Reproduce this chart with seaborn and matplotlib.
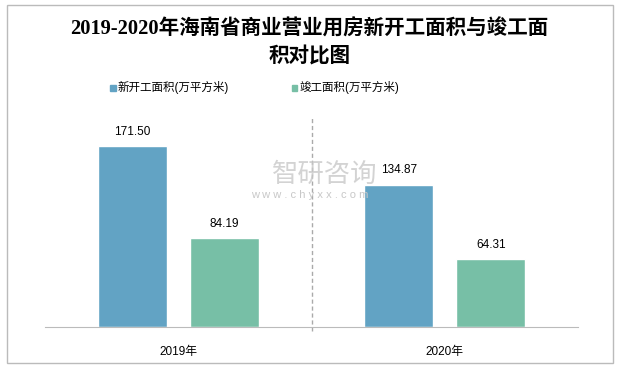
import matplotlib
matplotlib.use('Agg')
import matplotlib.pyplot as plt
import seaborn as sns
import pandas as pd
from matplotlib.patches import Rectangle

years = ['2019年', '2020年']
series = ['新开工面积(万平方米)', '竣工面积(万平方米)']
new_start = [171.50, 134.87]
completed = [84.19, 64.31]
colors = ['#62A3C4', '#77BFA6']

df = pd.DataFrame({
    'year': years * 2,
    'series': [series[0]] * 2 + [series[1]] * 2,
    'value': new_start + completed,
})

sns.set_style('white')
plt.rcParams['font.family'] = ['Liberation Sans', 'Noto Sans CJK SC']
plt.rcParams['text.color'] = 'black'
plt.rcParams['xtick.color'] = 'black'

fig = plt.figure(figsize=(6.19, 3.67), dpi=100)
ax = fig.add_axes([0.073, 0.109, 0.861, 0.575])
sns.barplot(data=df, x='year', y='value', hue='series', palette=colors,
            width=0.69, gap=0.25, saturation=1, ax=ax, legend=False)

for cont in ax.containers:
    ax.bar_label(cont, fmt='%.2f', padding=6, fontsize=8.5)

ax.set_ylim(0, 200)
ax.set_xlim(-0.5, 1.5)
ax.set_xlabel('')
ax.set_ylabel('')
ax.set_yticks([])
ax.tick_params(axis='x', length=0, pad=14, labelsize=8.5, labelcolor='black')
for s in ['top', 'right', 'left']:
    ax.spines[s].set_visible(False)
ax.spines['bottom'].set_color('#BBBBBB')
ax.axvline(0.5, ymin=-0.02, ymax=1, color='#AAAAAA', ls=(0, (3, 2)), lw=1, clip_on=False)

# title
fig.text(0.5, 0.881, '2019-2020年海南省商业营业用房新开工面积与竣工面\n积对比图',
         ha='center', va='center', fontsize=14.8, fontweight='bold', linespacing=1.5,
         family=['Liberation Serif', 'Noto Sans CJK SC'])

# legend
for i, (lbl, c) in enumerate(zip(series, colors)):
    x0 = 0.178 + i * 0.293
    fig.patches.append(Rectangle((x0, 0.753), 0.0095, 0.016, color=c,
                                 transform=fig.transFigure, figure=fig))
    fig.text(x0 + 0.012, 0.762, lbl, fontsize=8.3, va='center')

# watermark
fig.text(0.525, 0.523, '智研咨询', fontsize=19, color='#C8C8C8', ha='center', va='center', alpha=0.8)
fig.text(0.5, 0.468, 'w w w . c h y x x . c o m', fontsize=8, color='#C8C8C8', ha='center', va='center')

# border
fig.patches.append(Rectangle((0.011, 0.011), 0.98, 0.975, fill=False, ec='#BBBBBB', lw=1,
                             transform=fig.transFigure, figure=fig))

fig.savefig('out.png', dpi=100)
